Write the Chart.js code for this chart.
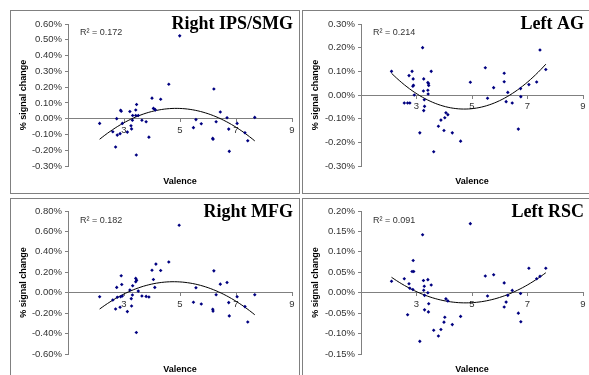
<!DOCTYPE html>
<html>
<head>
<meta charset="utf-8">
<script src="https://cdn.jsdelivr.net/npm/chart.js@4"></script>
<style>
  body { margin: 0; width: 589px; height: 375px; overflow: hidden; background: #fff; position: relative; }
  .panel { position: absolute; width: 288px; height: 182px; border: 1px solid #808080; background: #fff; }
  .panel canvas { display: block; }
</style>
</head>
<body>
<div class="panel" style="left:10px;top:10px"><canvas id="c0" width="288" height="182"></canvas></div>
<div class="panel" style="left:302px;top:10px"><canvas id="c1" width="288" height="182"></canvas></div>
<div class="panel" style="left:10px;top:198px"><canvas id="c2" width="288" height="182"></canvas></div>
<div class="panel" style="left:302px;top:198px"><canvas id="c3" width="288" height="182"></canvas></div>
<script>
// Right IPS/SMG
const ipsValence = [2.13, 2.60, 2.70, 2.74, 2.76, 2.86, 2.88, 2.90, 2.94, 3.12, 3.21, 3.25, 3.27, 3.30, 3.31,
  3.42, 3.45, 3.42, 3.51, 3.44, 3.64, 3.79, 3.89, 4.00, 4.05, 4.10, 4.12, 4.31, 4.60, 4.99,
  5.48, 5.57, 5.76, 6.17, 6.18, 6.21, 6.29, 6.44, 6.68, 6.74, 6.76, 7.04, 7.32, 7.42, 7.67];
const ipsSignal = [-0.030, -0.083, -0.180, 0.000, -0.104, -0.095, 0.053, 0.047, -0.030, -0.085, 0.045, -0.045, -0.065, -0.010, 0.020,
  0.055, 0.090, 0.020, 0.020, -0.230, -0.010, -0.020, -0.117, 0.130, 0.065, 0.060, 0.055, 0.123, 0.218, 0.525,
  -0.057, -0.006, -0.032, -0.125, -0.130, 0.188, -0.020, 0.042, 0.006, -0.066, -0.207, -0.030, -0.089, -0.140, 0.008];

// Left AG
const agValence = [2.10, 2.56, 2.68, 2.76, 2.73, 2.84, 2.88, 2.87, 2.89, 2.92, 3.12, 3.22, 3.26, 3.25, 3.28, 3.29,
  3.26, 3.41, 3.43, 3.44, 3.41, 3.42, 3.53, 3.62, 3.79, 3.88, 3.99, 4.02, 4.06, 4.13, 4.29, 4.59,
  4.94, 5.48, 5.56, 5.78, 6.16, 6.16, 6.23, 6.29, 6.45, 6.67, 6.75, 6.76, 7.05, 7.33, 7.45, 7.66];
const agSignal = [0.100, -0.034, -0.034, -0.034, 0.082, 0.100, 0.068, 0.037, 0.041, 0.000, -0.160, 0.200, 0.068, 0.017, -0.020, -0.048,
  -0.066, 0.053, 0.048, 0.040, 0.020, 0.004, 0.100, -0.240, -0.132, -0.106, -0.150, -0.096, -0.075, -0.083, -0.160, -0.195,
  0.054, 0.115, -0.014, 0.031, 0.092, 0.056, -0.028, 0.011, -0.034, -0.144, 0.027, -0.007, 0.044, 0.055, 0.190, 0.108];

// Right MFG
const mfgValence = [2.13, 2.60, 2.70, 2.74, 2.76, 2.86, 2.88, 2.90, 2.92, 2.94, 3.12, 3.21, 3.26, 3.27, 3.30, 3.31,
  3.42, 3.45, 3.42, 3.51, 3.44, 3.64, 3.79, 3.89, 4.00, 4.05, 4.10, 4.14, 4.31, 4.60, 4.97,
  5.48, 5.57, 5.76, 6.17, 6.18, 6.21, 6.29, 6.44, 6.68, 6.74, 6.76, 7.04, 7.32, 7.42, 7.67];
const mfgSignal = [-0.039, -0.071, -0.160, 0.052, -0.045, -0.143, -0.039, 0.166, 0.081, -0.032, -0.185, 0.026, -0.058, -0.130, -0.023, 0.068,
  0.140, 0.123, 0.107, 0.016, -0.390, -0.032, -0.036, -0.042, 0.220, 0.130, 0.052, 0.280, 0.218, 0.300, 0.660,
  -0.094, 0.049, -0.110, -0.162, -0.180, 0.214, -0.020, 0.084, 0.100, -0.097, -0.227, -0.039, -0.136, -0.286, -0.020];

// Left RSC
const rscValence = [2.10, 2.56, 2.68, 2.73, 2.76, 2.84, 2.88, 2.90, 2.87, 3.12, 3.22, 3.25, 3.26, 3.28, 3.29, 3.29,
  3.41, 3.41, 3.44, 3.43, 3.53, 3.62, 3.79, 3.88, 3.99, 4.02, 4.06, 4.13, 4.29, 4.59,
  4.94, 5.48, 5.56, 5.78, 6.16, 6.16, 6.23, 6.29, 6.45, 6.67, 6.75, 6.76, 7.05, 7.33, 7.45, 7.66];
const rscSignal = [0.028, 0.034, -0.054, 0.022, 0.011, 0.052, 0.079, 0.052, 0.008, -0.119, 0.142, 0.030, 0.006, 0.016, -0.0065, -0.042,
  0.032, 0.000, -0.027, -0.047, 0.019, -0.092, -0.106, -0.090, -0.072, -0.060, -0.015, -0.020, -0.078, -0.058,
  0.169, 0.041, -0.008, 0.044, 0.024, -0.035, -0.023, -0.0065, 0.0057, -0.050, -0.002, -0.071, 0.060, 0.034, 0.040, 0.060];

const panelTitles = ["Right IPS/SMG", "Left AG", "Right MFG", "Left RSC"];
const r2Labels = ["0.172", "0.214", "0.182", "0.091"];
const yMins = [-0.30, -0.30, -0.60, -0.15];
const yMaxs = [0.60, 0.30, 0.80, 0.20];
const ySteps = [0.10, 0.10, 0.20, 0.05];
const xTicks = [1, 3, 5, 7, 9];

const panels = [
  { x: ipsValence, y: ipsSignal, yw: 57, top: 13, bottom: 27, right: 7 },
  { x: agValence, y: agSignal, yw: 58, top: 13, bottom: 27, right: 8 },
  { x: mfgValence, y: mfgSignal, yw: 57, top: 12, bottom: 27, right: 7 },
  { x: rscValence, y: rscSignal, yw: 58, top: 12, bottom: 27, right: 8 },
];

// second order least squares trendline, like the spreadsheet's
function quadFit(xs, ys) {
  let s = [0, 0, 0, 0, 0], t = [0, 0, 0];
  xs.forEach((x, i) => {
    for (let k = 0; k < 5; k++) s[k] += Math.pow(x, k);
    for (let k = 0; k < 3; k++) t[k] += ys[i] * Math.pow(x, k);
  });
  const m = [[s[0], s[1], s[2], t[0]], [s[1], s[2], s[3], t[1]], [s[2], s[3], s[4], t[2]]];
  for (let c = 0; c < 3; c++) {
    for (let r = c + 1; r < 3; r++) {
      const f = m[r][c] / m[c][c];
      for (let k = c; k < 4; k++) m[r][k] -= f * m[c][k];
    }
  }
  const b = [0, 0, 0];
  for (let r = 2; r >= 0; r--) {
    let v = m[r][3];
    for (let k = r + 1; k < 3; k++) v -= m[r][k] * b[k];
    b[r] = v / m[r][r];
  }
  return b;
}

const sans = '"Liberation Sans", Arial, sans-serif';

const panelText = {
  id: "panelText",
  afterDraw(chart, args, opts) {
    const { ctx, chartArea } = chart;
    ctx.save();
    ctx.fillStyle = "#000";
    ctx.font = 'bold 18px "Liberation Serif", "Times New Roman", serif';
    ctx.textAlign = "right";
    ctx.textBaseline = "alphabetic";
    ctx.fillText(opts.title, chartArea.right + 1, 18);
    ctx.fillStyle = "#333";
    ctx.font = "9px " + sans;
    ctx.textAlign = "left";
    ctx.textBaseline = "middle";
    ctx.fillText("R\u00B2 = " + opts.r2, chartArea.left + 12, 22);
    ctx.fillStyle = "#000";
    ctx.font = "bold 9px " + sans;
    ctx.textAlign = "center";
    ctx.fillText("Valence", (chartArea.left + chartArea.right) / 2, 171);
    ctx.restore();
  }
};

panels.forEach((p, i) => {
  const pts = p.x.map((v, j) => ({ x: v, y: p.y[j] }));
  const b = quadFit(p.x, p.y);
  const lo = Math.min(...p.x), hi = Math.max(...p.x);
  const fit = [];
  for (let k = 0; k <= 60; k++) {
    const v = lo + (hi - lo) * k / 60;
    fit.push({ x: v, y: b[0] + b[1] * v + b[2] * v * v });
  }

  new Chart(document.getElementById("c" + i), {
    type: "scatter",
    data: {
      datasets: [
        {
          data: pts,
          pointStyle: "rectRot",
          pointRadius: 1.8,
          backgroundColor: "#000080",
          borderColor: "#000080",
          borderWidth: 0,
        },
        {
          data: fit,
          showLine: true,
          pointRadius: 0,
          borderColor: "#000",
          borderWidth: 1,
          fill: false,
        },
      ],
    },
    options: {
      responsive: false,
      animation: false,
      layout: { padding: { left: 0, top: p.top, bottom: p.bottom, right: p.right } },
      plugins: {
        legend: { display: false },
        tooltip: { enabled: false },
        panelText: { title: panelTitles[i], r2: r2Labels[i] },
      },
      scales: {
        x: {
          type: "linear",
          position: { y: 0 },
          min: xTicks[0],
          max: xTicks[xTicks.length - 1],
          afterBuildTicks: (s) => { s.ticks = xTicks.map((v) => ({ value: v })); },
          ticks: {
            callback: (v) => (v === 1 ? "" : v),
            font: { family: sans, size: 9.5 },
            color: "#333",
            padding: 3,
            maxRotation: 0,
          },
          grid: { drawOnChartArea: false, tickLength: 3, color: "#808080" },
          border: { color: "#808080" },
        },
        y: {
          min: yMins[i],
          max: yMaxs[i],
          ticks: {
            stepSize: ySteps[i],
            callback: (v) => v.toFixed(2) + "%",
            font: { family: sans, size: 9.5 },
            color: "#333",
            padding: 3,
          },
          grid: { drawOnChartArea: false, tickLength: 3, color: "#808080" },
          border: { color: "#808080" },
          title: {
            display: true,
            text: "% signal change",
            font: { family: sans, size: 9, weight: "bold" },
            color: "#000",
            padding: { top: 7, bottom: 0 },
          },
          afterFit: (s) => { s.width = p.yw; },
        },
      },
    },
    plugins: [panelText],
  });
});
</script>
</body>
</html>
